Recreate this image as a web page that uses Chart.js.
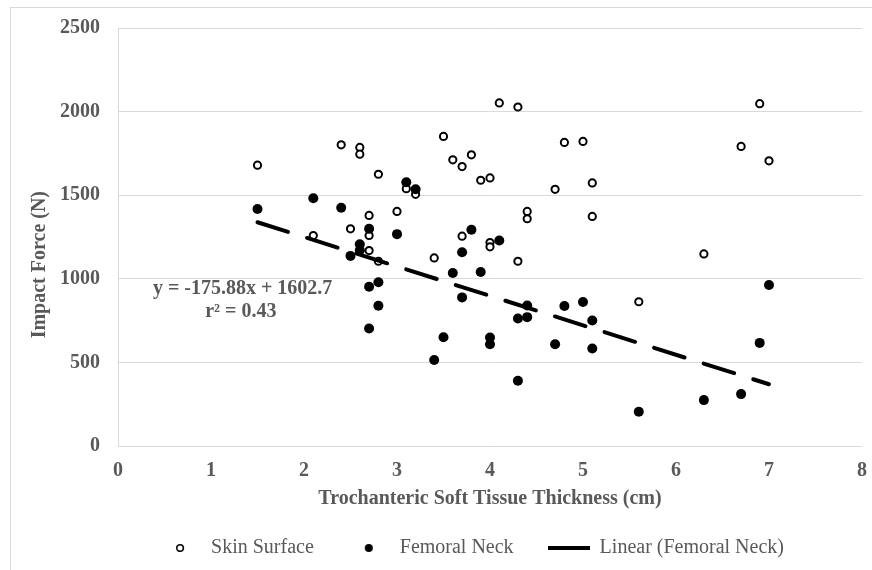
<!DOCTYPE html>
<html><head><meta charset="utf-8">
<script src="https://cdn.jsdelivr.net/npm/chart.js@4"></script>
<style>
html,body{margin:0;padding:0;background:#fff;overflow:hidden}
#wrap{position:relative;width:872px;height:570px;background:#fff}
#frame{position:absolute;left:10px;top:7px;width:900px;height:600px;border-left:1px solid #d9d9d9;border-top:1px solid #d9d9d9;box-sizing:border-box;pointer-events:none}
canvas{position:absolute;left:0;top:0}
</style></head><body>
<div id="wrap"><canvas id="c" width="872" height="570"></canvas><div id="frame"></div></div>
<script>
// ---- data ----
const skinX = [1.5, 2.1, 2.4, 2.5, 2.6, 2.6, 2.7, 2.7, 2.7, 2.8, 2.8, 3.0, 3.1, 3.2, 3.4, 3.5, 3.6, 3.7, 3.7, 3.8, 3.9, 4.0, 4.0, 4.0, 4.1, 4.3, 4.3, 4.4, 4.4, 4.7, 4.8, 5.0, 5.1, 5.1, 5.6, 6.3, 6.7, 6.9, 7.0];
const skinY = [1680, 1260, 1802, 1300, 1786, 1746, 1380, 1260, 1170, 1626, 1106, 1404, 1540, 1506, 1126, 1852, 1712, 1672, 1256, 1742, 1590, 1604, 1218, 1192, 2052, 2028, 1106, 1404, 1360, 1536, 1816, 1822, 1574, 1374, 864, 1150, 1792, 2048, 1706];
const neckX = [1.5, 2.1, 2.4, 2.5, 2.6, 2.6, 2.7, 2.7, 2.7, 2.8, 2.8, 3.0, 3.1, 3.2, 3.4, 3.5, 3.6, 3.7, 3.7, 3.8, 3.9, 4.0, 4.0, 4.1, 4.3, 4.3, 4.4, 4.4, 4.7, 4.8, 5.0, 5.1, 5.1, 5.6, 6.3, 6.7, 6.9, 7.0];
const neckY = [1418, 1482, 1426, 1138, 1208, 1172, 1300, 954, 704, 980, 840, 1268, 1578, 1536, 516, 652, 1036, 1160, 890, 1294, 1042, 650, 610, 1230, 764, 392, 842, 772, 610, 838, 862, 752, 584, 206, 276, 312, 618, 964];
const trendX = [1.5, 7.0];
const trendY = [1339, 371];
const xTicks = [0, 1, 2, 3, 4, 5, 6, 7, 8];
const yTicks = [0, 500, 1000, 1500, 2000, 2500];
const seriesNames = ['Skin Surface', 'Femoral Neck', 'Linear (Femoral Neck)'];
const xTitle = 'Trochanteric Soft Tissue Thickness (cm)';
const yTitle = 'Impact Force (N)';
const equationLines = ['y = -175.88x + 1602.7', 'r\u00B2 = 0.43'];
const equationAnchorX = [1.34, 1.32];
const equationAnchorY = [944, 806];

// ---- styling ----
const FONT = '"Liberation Serif", "Times New Roman", serif';
const GRAY = '#595959';
const GRID = '#d9d9d9';

function makeMarker(kind) {
  const c = document.createElement('canvas');
  if (kind === 'line') {
    c.width = 42; c.height = 6;
    const g = c.getContext('2d');
    g.fillStyle = '#000';
    g.fillRect(0, 1, 42, 4);
    return c;
  }
  c.width = 12; c.height = 12;
  const g = c.getContext('2d');
  g.beginPath();
  if (kind === 'open') {
    g.arc(6, 6, 3.3, 0, Math.PI * 2);
    g.fillStyle = '#fff'; g.fill();
    g.lineWidth = 1.6; g.strokeStyle = '#000'; g.stroke();
  } else {
    g.arc(6, 6, 4, 0, Math.PI * 2);
    g.fillStyle = '#000'; g.fill();
  }
  return c;
}
const legendMarkers = [makeMarker('open'), makeMarker('filled'), makeMarker('line')];

const equationPlugin = {
  id: 'equation',
  afterDatasetsDraw(chart) {
    const { ctx, scales } = chart;
    ctx.save();
    ctx.font = 'bold 20px ' + FONT;
    ctx.fillStyle = GRAY;
    ctx.textAlign = 'center';
    ctx.textBaseline = 'middle';
    equationLines.forEach((t, i) => {
      ctx.fillText(t, scales.x.getPixelForValue(equationAnchorX[i]), scales.y.getPixelForValue(equationAnchorY[i]));
    });
    ctx.restore();
  }
};

new Chart(document.getElementById('c'), {
  type: 'scatter',
  data: {
    datasets: [
      {
        label: seriesNames[0],
        data: skinX.map((x, i) => ({ x, y: skinY[i] })),
        pointStyle: 'circle', pointRadius: 3.6, pointBorderWidth: 2,
        pointBackgroundColor: '#fff', pointBorderColor: '#000',
        order: 3
      },
      {
        label: seriesNames[1],
        data: neckX.map((x, i) => ({ x, y: neckY[i] })),
        pointStyle: 'circle', pointRadius: 5, pointBorderWidth: 0,
        pointBackgroundColor: '#000', pointBorderColor: '#000',
        order: 2
      },
      {
        label: seriesNames[2],
        data: trendX.map((x, i) => ({ x, y: trendY[i] })),
        showLine: true, pointRadius: 0, borderColor: '#000', borderWidth: 4,
        borderDash: [32, 20], borderCapStyle: 'round', fill: false,
        order: 1
      }
    ]
  },
  options: {
    responsive: false,
    animation: false,
    events: [],
    layout: { padding: { left: 80, right: 9, top: 28, bottom: 2 } },
    plugins: {
      tooltip: { enabled: false },
      legend: {
        position: 'bottom',
        labels: {
          usePointStyle: true, pointStyleWidth: 42, boxHeight: 20, padding: 34,
          color: GRAY, font: { family: FONT, size: 20 },
          generateLabels(chart) {
            return chart.data.datasets.map((ds, i) => ({
              text: ds.label, datasetIndex: i, pointStyle: legendMarkers[i],
              fillStyle: '#000', strokeStyle: '#000', lineWidth: 0, hidden: false, fontColor: GRAY
            }));
          }
        }
      }
    },
    scales: {
      x: {
        type: 'linear', min: 0, max: 8,
        afterBuildTicks(s) { s.ticks = xTicks.map(v => ({ value: v })); },
        grid: { display: false },
        border: { display: false },
        ticks: { padding: 5, color: GRAY, font: { family: FONT, size: 20, weight: 'bold' }, callback: v => String(v) },
        title: { display: true, text: xTitle, color: GRAY, font: { family: FONT, size: 20, weight: 'bold' }, padding: { top: -1.3, bottom: -7 } }
      },
      y: {
        type: 'linear', min: 0, max: 2500,
        afterBuildTicks(s) { s.ticks = yTicks.map(v => ({ value: v })); },
        afterFit(s) { s.width = 38; },
        grid: { color: GRID, lineWidth: 1, drawTicks: false },
        border: { display: true, color: GRID, width: 1 },
        ticks: { mirror: true, crossAlign: 'far', padding: -58, color: GRAY, font: { family: FONT, size: 20, weight: 'bold' }, callback: v => String(v) },
        title: { display: true, text: yTitle + '\u00A0'.repeat(11), color: GRAY, font: { family: FONT, size: 20, weight: 'bold' }, padding: { top: -52, bottom: 0 } }
      }
    }
  },
  plugins: [equationPlugin]
});
</script>
</body></html>
